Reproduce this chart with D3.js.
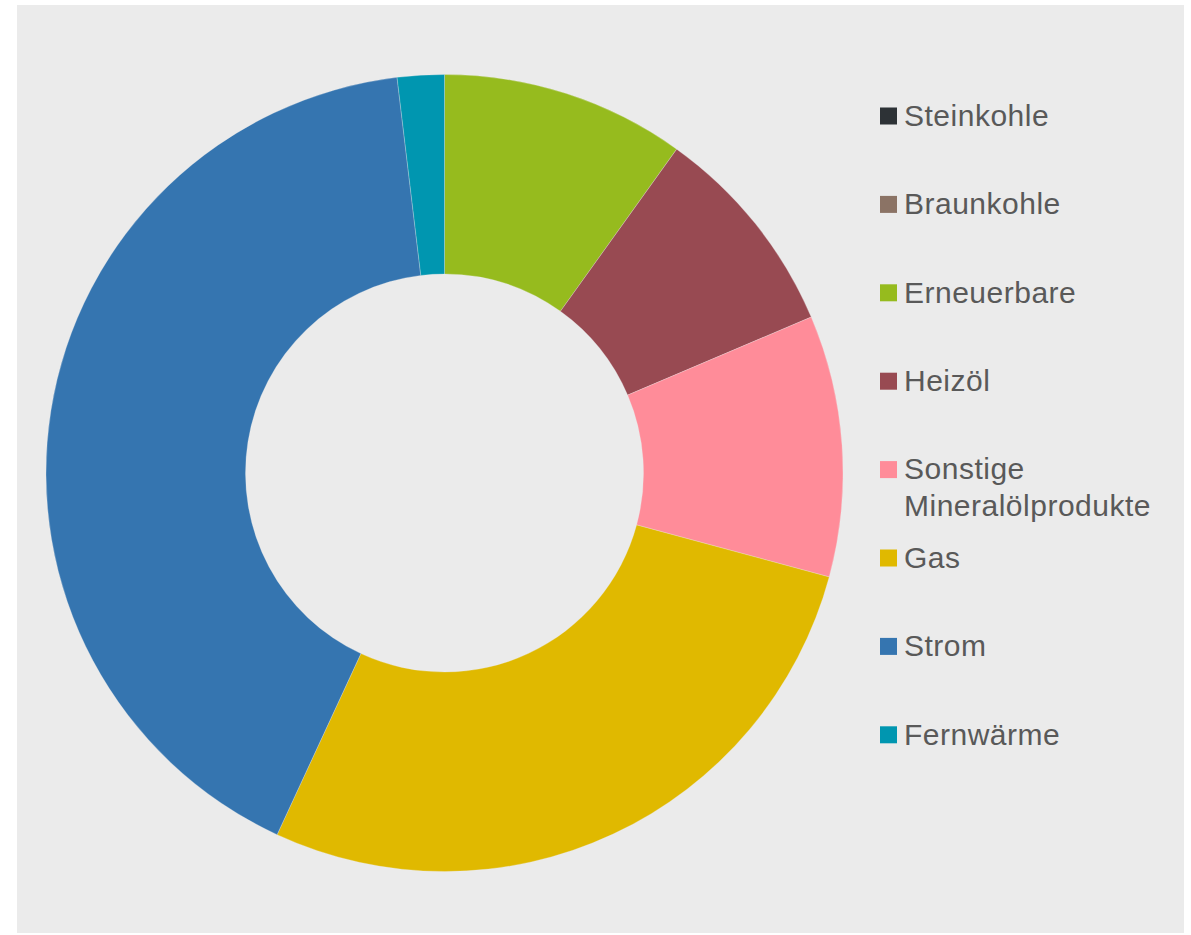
<!DOCTYPE html>
<html>
<head>
<meta charset="utf-8">
<script src="https://cdn.jsdelivr.net/npm/d3@7"></script>
<style>
  html, body { margin: 0; padding: 0; background: #ffffff; }
  svg { display: block; }
</style>
</head>
<body>
<svg id="chart" width="1191" height="935"></svg>
<script>
// Endenergieverbrauch nach Energieträgern (Anteile in %)
const categories = ["Steinkohle", "Braunkohle", "Erneuerbare", "Heizöl",
  "Sonstige Mineralölprodukte", "Gas", "Strom", "Fernwärme"];
const values = [0, 0, 9.9, 8.7, 10.6, 27.7, 41.2, 1.9];
const colors = ["#2d3236", "#8b7365", "#96bb1e", "#984a52",
  "#ff8c99", "#e0b900", "#3575b0", "#0096b0"];
// legend labels, wrapped as drawn
const legendLines = [["Steinkohle"], ["Braunkohle"], ["Erneuerbare"], ["Heizöl"],
  ["Sonstige", "Mineralölprodukte"], ["Gas"], ["Strom"], ["Fernwärme"]];

const svg = d3.select("#chart");

// panel background
svg.append("rect")
  .attr("x", 17).attr("y", 5)
  .attr("width", 1167).attr("height", 928)
  .attr("fill", "#ebebeb");

const cx = 444.5, cy = 473, outerR = 398.5, innerR = 199;

const color = d3.scaleOrdinal().domain(categories).range(colors);

const pie = d3.pie().sort(null).value(d => d.value);
const arc = d3.arc().innerRadius(innerR).outerRadius(outerR);

const data = categories.map((c, i) => ({ name: c, value: values[i] }));

svg.append("g")
  .attr("transform", `translate(${cx},${cy})`)
  .selectAll("path")
  .data(pie(data).filter(d => d.data.value > 0))
  .join("path")
  .attr("d", arc)
  .attr("fill", d => color(d.data.name))
  .attr("stroke", "#ebebeb")
  .attr("stroke-opacity", 0.35)
  .attr("stroke-width", 0.8);

// legend
const legendX = 880, rowStep = 88.4, lineH = 37;
const legend = svg.append("g");
let y = 116;
categories.forEach((c, i) => {
  const g = legend.append("g").attr("transform", `translate(${legendX},${y})`);
  g.append("rect")
    .attr("x", 0).attr("y", -8.5)
    .attr("width", 17).attr("height", 17)
    .attr("fill", color(c));
  const t = g.append("text")
    .attr("x", 24).attr("y", -1)
    .attr("font-family", "'Liberation Sans', Arial, sans-serif")
    .attr("font-size", 30)
    .attr("letter-spacing", 0.5)
    .attr("fill", "#595959");
  legendLines[i].forEach((ln, j) => {
    t.append("tspan").attr("x", 24).attr("dy", j === 0 ? "0.36em" : lineH).text(ln);
  });
  y += rowStep;
});
</script>
</body>
</html>
